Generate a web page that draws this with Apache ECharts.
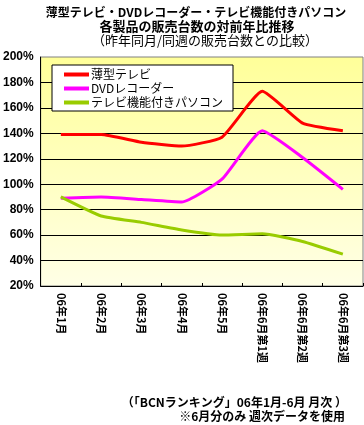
<!DOCTYPE html>
<html><head><meta charset="utf-8">
<script src="https://cdn.jsdelivr.net/npm/echarts@6/dist/echarts.min.js"></script>
<style>html,body{margin:0;padding:0;background:#fff}#c{width:364px;height:425px}</style>
</head><body><div id="c"></div>
<script>
var categories = ['06年1月','06年2月','06年3月','06年4月','06年5月','06年6月第1週','06年6月第2週','06年6月第3週'];
var thinTV = [139, 139, 133, 130, 137, 173, 148, 142];
var dvdRecorder = [89, 90, 88, 86, 104, 142, 121, 96];
var tvPC = [90, 75, 70, 64, 60, 61, 55, 45];
var seriesNames = ['薄型テレビ','DVDレコーダー','テレビ機能付きパソコン'];
var yTicks = {min: 20, max: 200, interval: 20};

var FONT = '"Noto Sans CJK JP", sans-serif';
var chart = echarts.init(document.getElementById('c'), null, {renderer: 'canvas'});
chart.setOption({
  animation: false,
  backgroundColor: '#ffffff',
  textStyle: {fontFamily: FONT},
  title: [
    {text: '薄型テレビ・DVDレコーダー・テレビ機能付きパソコン', left: 191, top: 1, textAlign: 'center',
     textStyle: {fontSize: 12, fontWeight: 'bold', color: '#000', fontFamily: FONT}},
    {text: '各製品の販売台数の対前年比推移', left: 192, top: 15, textAlign: 'center',
     textStyle: {fontSize: 13, fontWeight: 'bold', color: '#000', fontFamily: FONT}},
    {text: '（昨年同月/同週の販売台数との比較）', left: 200, top: 29, textAlign: 'center',
     textStyle: {fontSize: 13, fontWeight: 'normal', color: '#000', fontFamily: FONT}}
  ],
  graphic: [
    {type: 'text', right: 17, top: 396, style: {text: '（「BCNランキング」06年1月-6月 月次 ）', fill: '#000', font: 'bold 12px ' + FONT}},
    {type: 'text', right: 19, top: 410, style: {text: '※6月分のみ 週次データを使用', fill: '#000', font: 'bold 12px ' + FONT}}
  ],
  legend: {
    orient: 'vertical', left: 52, top: 65,
    backgroundColor: '#ffffff', borderColor: '#000', borderWidth: 1,
    padding: [3, 10, 2, 12], itemGap: 1, itemWidth: 25, itemHeight: 12,
    icon: 'path://M0,42 L100,42 L100,58 L0,58 Z',
    textStyle: {fontSize: 12, lineHeight: 13, color: '#000', fontFamily: FONT, padding: [0, 0, 0, -3]},
    data: seriesNames
  },
  grid: {
    left: 38, right: 1, top: 57, bottom: 139, containLabel: false,
    show: true, borderColor: '#808080', borderWidth: 1,
    backgroundColor: new echarts.graphic.LinearGradient(0, 0, 0, 1, [
      {offset: 0, color: '#FFFF99'}, {offset: 1, color: '#FFFFE6'}])
  },
  xAxis: {
    type: 'category', data: categories, boundaryGap: true,
    axisLine: {lineStyle: {color: '#000', width: 1}},
    axisTick: {show: true, inside: true, length: 3, alignWithLabel: false, lineStyle: {color: '#000'}},
    axisLabel: {rotate: -90, interval: 0, margin: 7, fontSize: 11, fontWeight: 'bold', color: '#000', fontFamily: FONT},
    splitLine: {show: false}
  },
  yAxis: {
    type: 'value', min: yTicks.min, max: yTicks.max, interval: yTicks.interval,
    axisLine: {show: true, lineStyle: {color: '#000', width: 1}},
    axisTick: {show: false},
    axisLabel: {formatter: '{value}%', fontSize: 12, fontWeight: 'bold', color: '#000', margin: 7, fontFamily: '"Liberation Sans", Arial, sans-serif'},
    splitLine: {show: true, showMaxLine: false, lineStyle: {color: '#000', width: 1}}
  },
  series: [
    {name: seriesNames[0], type: 'line', data: thinTV, smooth: 0.15, showSymbol: false, symbol: 'none',
     itemStyle: {color: '#FF0000'}, lineStyle: {color: '#FF0000', width: 3}},
    {name: seriesNames[1], type: 'line', data: dvdRecorder, smooth: 0.15, showSymbol: false, symbol: 'none',
     itemStyle: {color: '#FF00FF'}, lineStyle: {color: '#FF00FF', width: 3}},
    {name: seriesNames[2], type: 'line', data: tvPC, smooth: 0.15, showSymbol: false, symbol: 'none',
     itemStyle: {color: '#99CC00'}, lineStyle: {color: '#99CC00', width: 3}}
  ]
});
</script></body></html>
